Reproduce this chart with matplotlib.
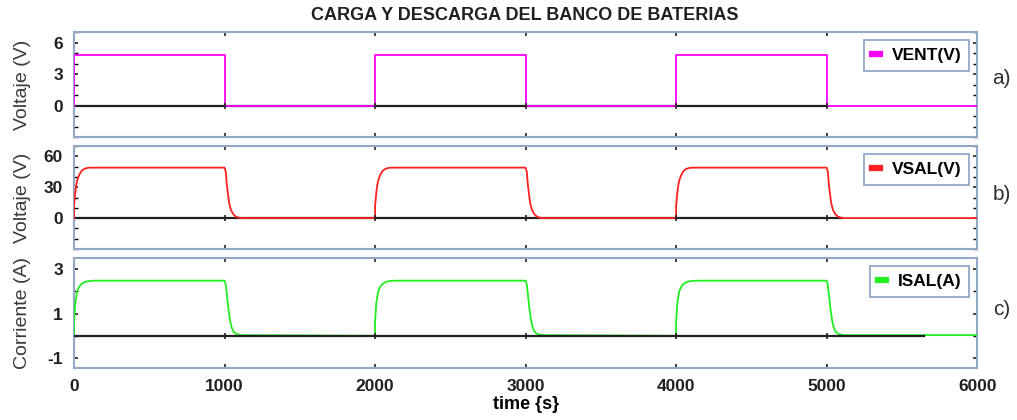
import matplotlib
matplotlib.use("Agg")
import matplotlib.pyplot as plt
from matplotlib.ticker import MultipleLocator

plt.rcParams["font.family"] = ["Liberation Sans", "DejaVu Sans"]
plt.rcParams["axes.unicode_minus"] = False

# charge cycles: source on from start to start + 1000 s
CYCLE_STARTS = [0, 2000, 4000]
ON_TIME = 1000
T_END = 6000

# VENT (V): square wave level
VENT_LEVEL = 4.8

# VSAL (V): rise and fall (time offset, value)
VSAL_RISE_T = [0, 0, 7, 13, 20, 29, 40, 51, 70, 95, 140]
VSAL_RISE_V = [0, 11.7, 23, 30.8, 36, 40, 43.5, 46, 48, 48.9, 49]
VSAL_FALL_T = [0, 8, 14, 22, 30, 42, 58, 75, 92, 110]
VSAL_FALL_V = [49, 45, 34, 24, 15, 8, 3.8, 1.5, 0.5, 0]

# ISAL (A)
ISAL_RISE_T = [0, 0, 8, 20, 32, 45, 62, 80, 106, 140]
ISAL_RISE_V = [0, 0.64, 1.45, 1.98, 2.18, 2.3, 2.39, 2.44, 2.47, 2.48]
ISAL_FALL_T = [0, 8, 14, 25, 36, 46, 58, 70, 80, 110]
ISAL_FALL_V = [2.48, 2.3, 1.93, 1.25, 0.72, 0.4, 0.2, 0.12, 0.08, 0.03]

# end of the black zero trace in each panel
ZERO_END = [5000, 5100, 5650]

X_TICKS = [0, 1000, 2000, 3000, 4000, 5000, 6000]
Y_TICKS = [[0, 3, 6], [0, 30, 60], [-1, 1, 3]]
LABELS = ["VENT(V)", "VSAL(V)", "ISAL(A)"]
COLORS = ["#ff00ff", "#ff2020", "#22ee22"]
PANEL_TAGS = ["a)", "b)", "c)"]


def square_wave():
    t, v = [0], [0]
    for s in CYCLE_STARTS:
        t += [s, s, s + ON_TIME, s + ON_TIME]
        v += [0, VENT_LEVEL, VENT_LEVEL, 0]
    t.append(T_END)
    v.append(0)
    return t, v


def cycled(rise_t, rise_v, fall_t, fall_v):
    t, v = [], []
    for s in CYCLE_STARTS:
        t += [s + dt for dt in rise_t]
        v += rise_v
        t += [s + ON_TIME + dt for dt in fall_t]
        v += fall_v
    t.append(T_END)
    v.append(fall_v[-1])
    return t, v


def main():
    series = [
        square_wave(),
        cycled(VSAL_RISE_T, VSAL_RISE_V, VSAL_FALL_T, VSAL_FALL_V),
        cycled(ISAL_RISE_T, ISAL_RISE_V, ISAL_FALL_T, ISAL_FALL_V),
    ]

    fig = plt.figure(figsize=(10.17, 4.2), dpi=100)
    left, width = 0.0728, 0.888
    rects = [
        [left, 0.6738, width, 0.2500],
        [left, 0.4071, width, 0.2453],
        [left, 0.1238, width, 0.2619],
    ]
    ylims = [(-3, 7), (-30, 70), (-1.45, 3.5)]
    minors = [1, 10, 1]
    ylabels = ["Voltaje (V)", "Voltaje (V)", "Corriente (A)"]
    tag_y = [0.814, 0.536, 0.262]
    spine_col = "#92a9c6"

    for i, rect in enumerate(rects):
        ax = fig.add_axes(rect)
        t, v = series[i]
        ax.plot([0, ZERO_END[i]], [0, 0], color="#202020", lw=1.6,
                zorder=2 if i < 2 else 4)
        ax.plot(t, v, color=COLORS[i], lw=1.3, label=LABELS[i], zorder=3)
        ax.plot(X_TICKS[1:-1], [0] * 5, ls="none", marker="|",
                color="#202020", ms=5, mew=1.2, zorder=5)

        ax.set_xlim(0, T_END)
        ax.set_ylim(*ylims[i])
        ax.set_xticks(X_TICKS)
        ax.set_yticks(Y_TICKS[i])
        ax.yaxis.set_minor_locator(MultipleLocator(minors[i]))
        ax.tick_params(direction="in", length=3, width=1.2, top=True,
                       right=True, labelsize=12.5, pad=8, colors="#202020")
        ax.tick_params(which="minor", direction="in", length=3, width=1,
                       right=True, left=True)
        for lab in ax.get_yticklabels() + ax.get_xticklabels():
            lab.set_fontweight("bold")
        if i < 2:
            ax.set_xticklabels([])
        for sp in ax.spines.values():
            sp.set_color(spine_col)
            sp.set_linewidth(1.5)

        ax.set_ylabel(ylabels[i], fontsize=14, color="#3a3a3a")
        ax.yaxis.set_label_coords(-0.048, 0.5)

        leg = ax.legend(loc="upper right", handlelength=0.45, handletextpad=0.7,
                        fancybox=False, edgecolor=spine_col, fontsize=12.5,
                        borderaxespad=0.45, borderpad=0.45, framealpha=1)
        leg.get_frame().set_linewidth(1.3)
        for line in leg.get_lines():
            line.set_linewidth(4.5)
        for txt in leg.get_texts():
            txt.set_fontweight("bold")

        fig.text(0.985, tag_y[i], PANEL_TAGS[i], fontsize=15,
                 color="#303030", ha="center", va="center")

        if i == 2:
            ax.set_xlabel("time {s}", fontsize=13, fontweight="bold",
                          labelpad=1)

    fig.text(0.516, 0.962, "CARGA Y DESCARGA DEL BANCO DE BATERIAS",
             fontsize=13, fontweight="bold", ha="center", va="center",
             color="#202020")

    fig.savefig("out.png", dpi=100)


if __name__ == "__main__":
    main()
